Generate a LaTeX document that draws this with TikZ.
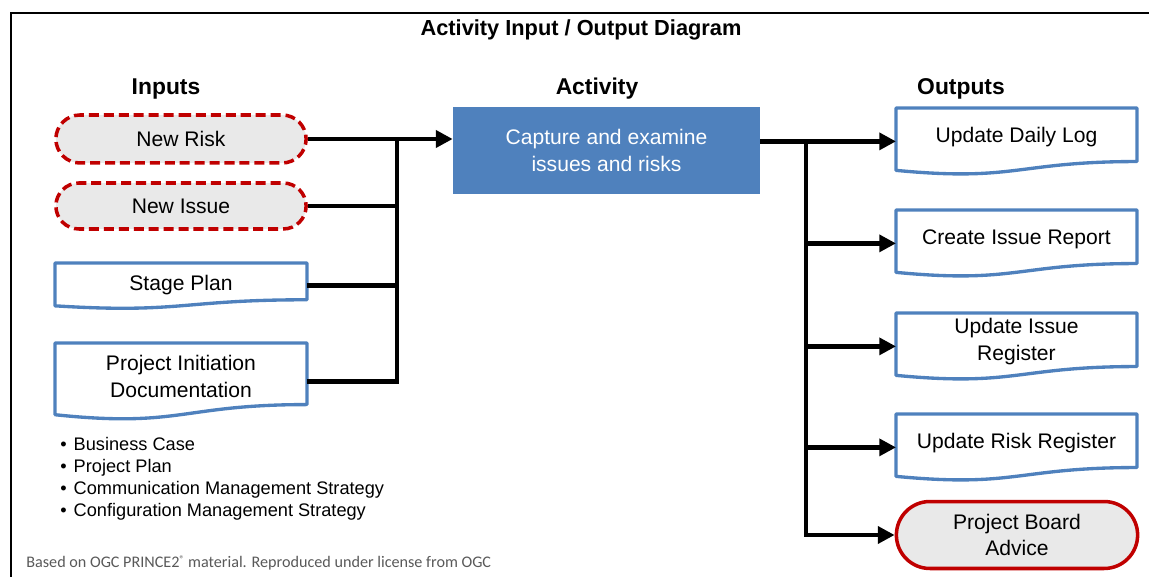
\documentclass[tikz,border=0pt]{standalone}
\usepackage{fontspec}
\setmainfont{Liberation Sans}
\newfontfamily\footfont{Carlito}
\usetikzlibrary{arrows.meta,positioning,calc,shapes.misc}
\definecolor{riskred}{RGB}{192,0,0}
\definecolor{palegrey}{RGB}{233,233,233}
\definecolor{actblue}{RGB}{79,129,189}
\definecolor{docblue}{RGB}{79,129,189}
\definecolor{notegrey}{RGB}{89,89,89}

\begin{document}
\begin{tikzpicture}[x=0.02cm,y=-0.02cm,>={Triangle[length=9.5pt,width=9.5pt]},
  every node/.style={align=center,font=\fontsize{12}{15.3}\selectfont},
  flow/.style={line width=2.8pt},
  newbox/.style={rounded rectangle,draw=riskred,line width=2pt,dash pattern=on 5.7pt off 2.8pt,fill=palegrey,minimum width=5.24cm},
  docbox/.style 2 args={anchor=north west,inner ysep=0pt,outer sep=0pt,text height=#1,text depth=#2},
  docline/.style={draw=docblue,line width=1.9pt,line join=round},
  heading/.style={font=\bfseries\fontsize{13}{15}\selectfont}]
  \useasboundingbox (0,0) rectangle (1149,577);
  \draw[line width=1.7pt] (11,577) -- (11,13) -- (1149,13);
  \node[font=\bfseries\fontsize{12.4}{15}\selectfont] (title) at (581,30) {Activity Input / Output Diagram};
  \node[heading] (inhead) at (166,89) {Inputs};
  \node[heading] (acthead) at (597,89) {Activity};
  \node[heading] (outhead) at (961,89) {Outputs};

  % inputs
  \node[newbox,minimum height=0.96cm] (risk) at (181,139) {New Risk};
  \node[newbox,minimum height=0.92cm] (issue) at (181,206) {New Issue};
  \node[docbox={15.6pt}{10.5pt},minimum width=5.04cm] (stage) at (55,263) {Stage Plan};
  \node[docbox={31pt}{12.7pt},minimum width=5.04cm] (pid) at (55,343) {Project Initiation\\Documentation};
  \node[anchor=north west,align=left,inner sep=0pt,font=\fontsize{10.35}{12.5}\selectfont] (piddocs) at (60,437)
    {\textbullet\hspace{4pt}Business Case\\\textbullet\hspace{4pt}Project Plan\\
     \textbullet\hspace{4pt}Communication Management Strategy\\\textbullet\hspace{4pt}Configuration Management Strategy};

  % activity
  \node[fill=actblue,text=white,minimum width=6.14cm,minimum height=1.74cm] (act) at (606.5,150.5)
    {Capture and examine\\issues and risks};

  % outputs
  \node[docbox={19.7pt}{18.3pt},minimum width=4.82cm] (dlog) at (896,108) {Update Daily Log};
  \node[docbox={19.8pt}{18.2pt},minimum width=4.82cm] (irep) at (896,210) {Create Issue Report};
  \node[docbox={27pt}{11pt},minimum width=4.82cm] (ireg) at (896,313) {Update Issue\\Register};
  \node[docbox={19.5pt}{18.5pt},minimum width=4.82cm] (rreg) at (896,414) {Update Risk Register};
  \node[rounded rectangle,draw=riskred,line width=2pt,fill=palegrey,minimum width=5.06cm,minimum height=1.34cm] (board) at (1017,535)
    {Project Board\\Advice};

  \foreach \n in {stage,pid,dlog,irep,ireg,rreg}
    \draw[docline] (\n.north west) -- (\n.north east) -- ($(\n.north east)!0.802!(\n.south east)$)
      .. controls ($(\n.north)!0.802!(\n.south)$) and ($(\n.north)!1.107!(\n.south)$) .. ($(\n.north west)!0.934!(\n.south west)$) -- cycle;

  % connectors
  \coordinate (ib) at (397,0);
  \coordinate (ob) at (806,0);
  \draw[flow,->] (risk.east) -- (risk.east -| act.west);
  \draw[flow] (ib |- risk.east) -- (ib |- pid.east) -- (pid.east);
  \foreach \n in {issue,stage}
    \draw[flow] (\n.east) -- (ib |- \n.east);
  \draw[flow,->] (act.east |- dlog.west) -- (dlog.west);
  \draw[flow,->] (ob |- dlog.west) -- (ob |- board.west) -- (board.west);
  \foreach \n in {irep,ireg,rreg}
    \draw[flow,->] (ob |- \n.west) -- (\n.west);

  \node[anchor=west,inner sep=0pt,font=\footfont\fontsize{9.2}{10}\selectfont,text=notegrey] (credit) at (26,563)
    {Based on OGC PRINCE2\raisebox{0.35em}{\fontsize{5.5}{6}\selectfont ®} material. Reproduced under license from OGC};
\end{tikzpicture}
\end{document}
